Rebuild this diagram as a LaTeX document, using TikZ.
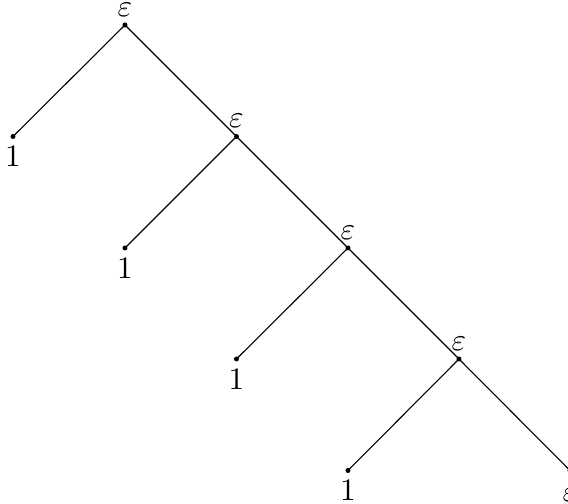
\documentclass[tikz,border=0pt]{standalone}
\begin{document}
\begin{tikzpicture}[x=0.32pt,y=-0.32pt,
  vertex/.style={circle,fill=black,inner sep=0pt,minimum size=1.6pt},
  edge/.style={line width=0.35pt},
  eps/.style={label={[label distance=-1.8pt]above:$\varepsilon$}},
  one/.style={label={[label distance=-1.3pt]below:$1$}}]
\useasboundingbox (0,0) rectangle (568,504);
% spine of epsilon nodes
\node[vertex,eps] (e0) at (125,25) {};
\node[vertex,eps] (e1) at (236.5,136.5) {};
\node[vertex,eps] (e2) at (348,248) {};
\node[vertex,eps] (e3) at (459,359) {};
\node[vertex,label={[label distance=1pt]below:$\varepsilon$}] (e4) at (570,470.5) {};
% leaves
\node[vertex,one] (l0) at (13,136.5) {};
\node[vertex,one] (l1) at (125,248) {};
\node[vertex,one] (l2) at (236.5,359) {};
\node[vertex,one] (l3) at (348,470.5) {};
% edges
\foreach \a/\b in {e0/l0,e0/e1,e1/l1,e1/e2,e2/l2,e2/e3,e3/l3,e3/e4}
  \draw[edge] (\a.center) -- (\b.center);
\end{tikzpicture}
\end{document}
